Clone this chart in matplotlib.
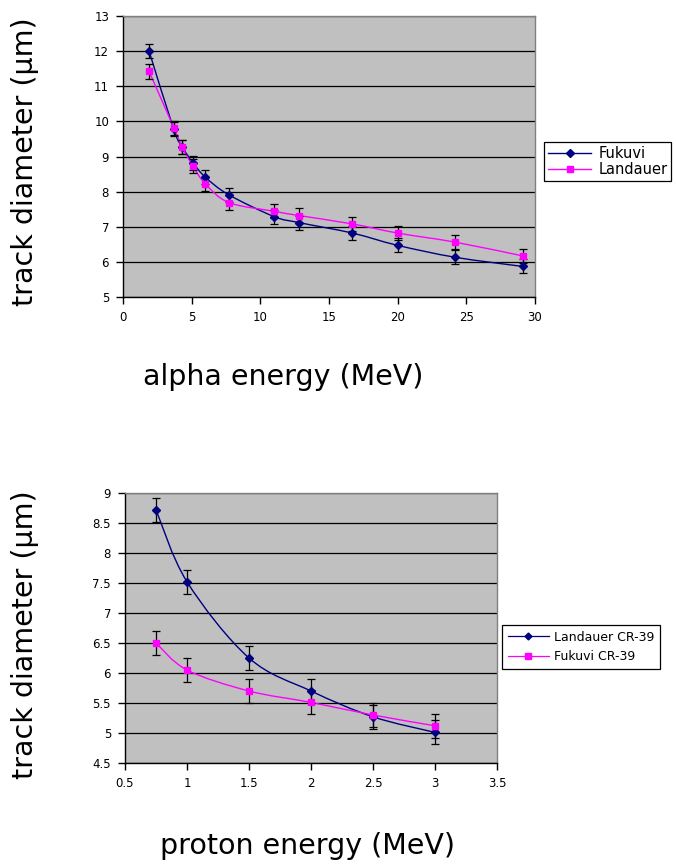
import numpy as np
import matplotlib
matplotlib.use("Agg")
import matplotlib.pyplot as plt
from matplotlib.path import Path
from matplotlib.patches import PathPatch
from matplotlib.lines import Line2D

# ---------------- data ----------------
alpha_energy = [1.9, 3.7, 4.3, 5.1, 6.0, 7.7, 11.0, 12.8, 16.7, 20.0, 24.2, 29.1]
alpha_fukuvi = [12.0, 9.77, 9.28, 8.82, 8.41, 7.91, 7.29, 7.12, 6.82, 6.47, 6.13, 5.87]
alpha_landauer = [11.42, 9.82, 9.27, 8.72, 8.22, 7.69, 7.44, 7.32, 7.08, 6.82, 6.56, 6.17]
alpha_err = 0.2

proton_energy = [0.75, 1.0, 1.5, 2.0, 2.5, 3.0]
proton_landauer = [8.72, 7.52, 6.25, 5.70, 5.27, 5.01]
proton_fukuvi = [6.50, 6.05, 5.70, 5.51, 5.30, 5.12]
proton_err = 0.2

top_xticks = [0, 5, 10, 15, 20, 25, 30]
top_yticks = [5, 6, 7, 8, 9, 10, 11, 12, 13]
bot_xticks = [0.5, 1, 1.5, 2, 2.5, 3, 3.5]
bot_xlabels = ["0.5", "1", "1.5", "2", "2.5", "3", "3.5"]
bot_yticks = [4.5, 5, 5.5, 6, 6.5, 7, 7.5, 8, 8.5, 9]
bot_ylabels = ["4.5", "5", "5.5", "6", "6.5", "7", "7.5", "8", "8.5", "9"]

NAVY = "#000080"
MAGENTA = "#FF00FF"
BG = "#C0C0C0"

plt.rcParams['font.family'] = ['DejaVu Sans']

fig = plt.figure(figsize=(6.76, 8.65), dpi=100)


def smooth(ax, x, y, color):
    pts = np.column_stack([x, y]).astype(float)
    n = len(pts)
    verts = [pts[0]]
    codes = [Path.MOVETO]
    for i in range(n - 1):
        p0 = pts[i - 1] if i > 0 else pts[i]
        p1 = pts[i]
        p2 = pts[i + 1]
        p3 = pts[i + 2] if i + 2 < n else pts[i + 1]
        c1 = p1 + (p2 - p0) / 6.0
        c2 = p2 - (p3 - p1) / 6.0
        verts += [c1, c2, p2]
        codes += [Path.CURVE4] * 3
    patch = PathPatch(Path(verts, codes), fill=False, edgecolor=color,
                      lw=1.0, transform=ax.transData, zorder=3)
    ax.add_patch(patch)


def series(ax, x, y, err, color, marker, ms):
    smooth(ax, x, y, color)
    ax.errorbar(x, y, yerr=err, fmt='none', ecolor='black', elinewidth=0.9,
                capsize=3.2, capthick=0.9, zorder=4)
    ax.plot(x, y, linestyle='none', marker=marker, color=color, ms=ms,
            markeredgecolor=color, zorder=5)


def style(ax):
    ax.set_facecolor(BG)
    for s in ['top', 'right']:
        ax.spines[s].set_color('#808080')
        ax.spines[s].set_linewidth(1.0)
    for s in ['left', 'bottom']:
        ax.spines[s].set_color('black')
        ax.spines[s].set_linewidth(1.0)
    ax.tick_params(direction='out', length=5, width=1, labelsize=8.5,
                   colors='black', pad=5)
    ax.grid(axis='y', color='black', lw=0.9)
    ax.set_axisbelow(True)


# ---------------- top chart ----------------
ax1 = fig.add_axes([123 / 676, 1 - 297 / 865, 412 / 676, 281 / 865])
style(ax1)
series(ax1, alpha_energy, alpha_fukuvi, alpha_err, NAVY, 'D', 4.3)
series(ax1, alpha_energy, alpha_landauer, alpha_err, MAGENTA, 's', 5.0)
ax1.set_xlim(0, 30)
ax1.set_ylim(5, 13)
ax1.set_xticks(top_xticks)
ax1.set_yticks(top_yticks)

h1 = [Line2D([], [], color=NAVY, marker='D', ms=4, lw=1.0),
      Line2D([], [], color=MAGENTA, marker='s', ms=5, lw=1.0)]
leg1 = fig.legend(h1, ["Fukuvi", "Landauer"], loc='upper left',
                  bbox_to_anchor=(544 / 676, 1 - 142 / 865),
                  bbox_transform=fig.transFigure, fontsize=10.5,
                  frameon=True, fancybox=False, edgecolor='black',
                  framealpha=1, borderpad=0.25, labelspacing=0.1,
                  handlelength=3.0, handletextpad=0.5, borderaxespad=0)
leg1.get_frame().set_linewidth(0.9)

fig.text(25 / 676, 1 - 162 / 865, "track diameter (μm)", rotation=90,
         ha='center', va='center', fontsize=20.5)
fig.text(283 / 676, 1 - 377 / 865, "alpha energy (MeV)",
         ha='center', va='center', fontsize=20.5)

# ---------------- bottom chart ----------------
ax2 = fig.add_axes([125 / 676, 1 - 763 / 865, 372 / 676, 270 / 865])
style(ax2)
series(ax2, proton_energy, proton_landauer, proton_err, NAVY, 'D', 4.3)
series(ax2, proton_energy, proton_fukuvi, proton_err, MAGENTA, 's', 5.0)
ax2.set_xlim(0.5, 3.5)
ax2.set_ylim(4.5, 9)
ax2.set_xticks(bot_xticks)
ax2.set_xticklabels(bot_xlabels)
ax2.set_yticks(bot_yticks)
ax2.set_yticklabels(bot_ylabels)

h2 = [Line2D([], [], color=NAVY, marker='D', ms=3.5, lw=0.9),
      Line2D([], [], color=MAGENTA, marker='s', ms=4.5, lw=0.9)]
leg2 = fig.legend(h2, ["Landauer CR-39", "Fukuvi CR-39"], loc='upper left',
                  bbox_to_anchor=(502 / 676, 1 - 625 / 865),
                  bbox_transform=fig.transFigure, fontsize=9,
                  frameon=True, fancybox=False, edgecolor='black',
                  framealpha=1, borderpad=0.45, labelspacing=0.55,
                  handlelength=3.3, handletextpad=0.4, borderaxespad=0)
leg2.get_frame().set_linewidth(0.9)

fig.text(25 / 676, 1 - 635 / 865, "track diameter (μm)", rotation=90,
         ha='center', va='center', fontsize=20.5)
fig.text(307 / 676, 1 - 846 / 865, "proton energy (MeV)",
         ha='center', va='center', fontsize=20.5)

fig.savefig("out.png", dpi=100, facecolor='white')
